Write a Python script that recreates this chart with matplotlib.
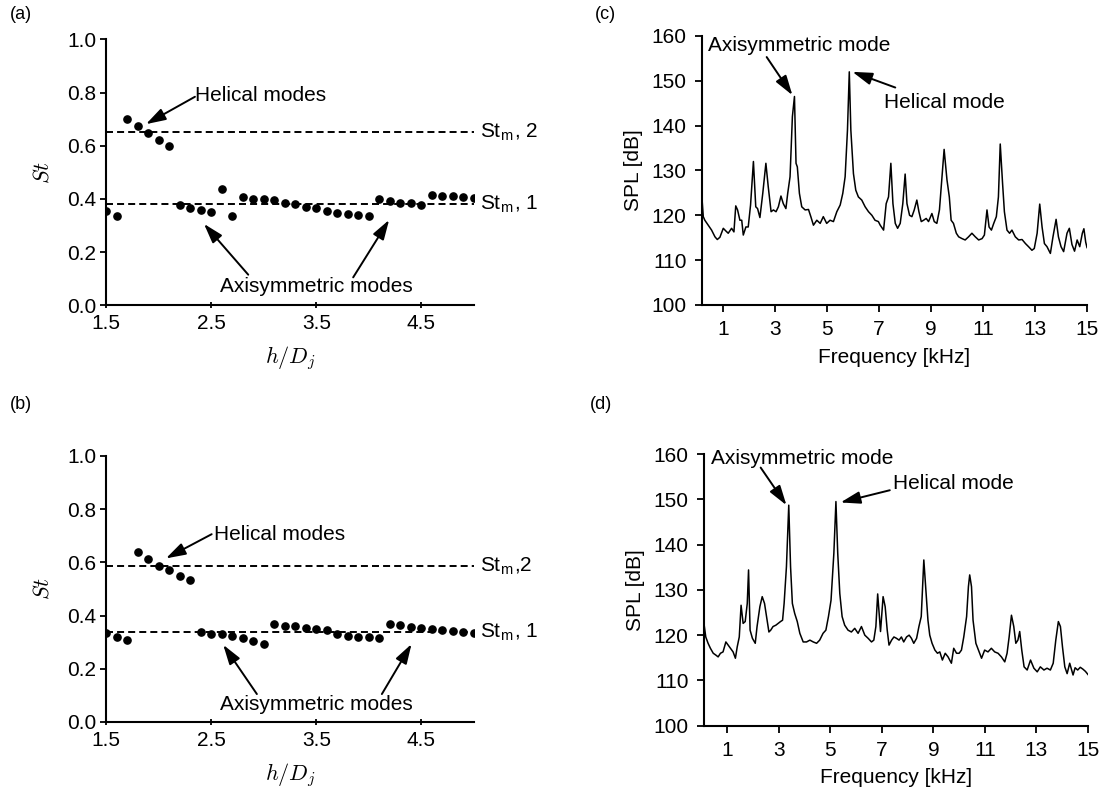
import matplotlib
matplotlib.use('Agg')
import matplotlib.pyplot as plt
import numpy as np

plt.rcParams['font.family'] = ['Liberation Sans', 'DejaVu Sans']
plt.rcParams['mathtext.fontset'] = 'cm'
plt.rcParams['font.size'] = 15

# ---- Strouhal number vs. impingement distance, panels (a) and (b) ----
# panel (a)
a_hel_h = [1.7, 1.8, 1.9, 2.0, 2.1]
a_hel_st = [0.700, 0.673, 0.648, 0.622, 0.599]
a_axi_h = [1.5, 1.6, 2.2, 2.3, 2.4, 2.5, 2.6, 2.7, 2.8, 2.9, 3.0, 3.1, 3.2, 3.3,
           3.4, 3.5, 3.6, 3.7, 3.8, 3.9, 4.0, 4.1, 4.2, 4.3, 4.4, 4.5, 4.6,
           4.7, 4.8, 4.9, 5.0]
a_axi_st = [0.353, 0.337, 0.378, 0.366, 0.358, 0.352, 0.436, 0.335, 0.407,
            0.401, 0.400, 0.397, 0.386, 0.381, 0.371, 0.367, 0.354, 0.347,
            0.342, 0.340, 0.335, 0.400, 0.393, 0.386, 0.386, 0.377, 0.416,
            0.412, 0.410, 0.407, 0.403]
a_stm = [0.38, 0.65]

# panel (b)
b_hel_h = [1.8, 1.9, 2.0, 2.1, 2.2, 2.3]
b_hel_st = [0.639, 0.614, 0.587, 0.571, 0.550, 0.532]
b_axi_h = [1.5, 1.6, 1.7, 2.4, 2.5, 2.6, 2.7, 2.8, 2.9, 3.0, 3.1, 3.2, 3.3, 3.4,
           3.5, 3.6, 3.7, 3.8, 3.9, 4.0, 4.1, 4.2, 4.3, 4.4, 4.5, 4.6, 4.7,
           4.8, 4.9, 5.0]
b_axi_st = [0.335, 0.319, 0.310, 0.339, 0.332, 0.329, 0.323, 0.314, 0.304,
            0.295, 0.368, 0.362, 0.359, 0.353, 0.349, 0.344, 0.330, 0.325,
            0.320, 0.319, 0.314, 0.367, 0.363, 0.358, 0.354, 0.349, 0.345,
            0.343, 0.337, 0.334]
b_stm = [0.337, 0.585]

# ---- SPL spectra, panels (c) and (d) ----
c_f = [0.19, 0.23, 0.29, 0.42, 0.55, 0.68, 0.77, 0.87, 1.00, 1.10, 1.19, 1.32,
       1.41, 1.48, 1.55, 1.64, 1.71, 1.77, 1.87, 1.96, 2.05, 2.16, 2.25, 2.32,
       2.41, 2.52, 2.64, 2.73, 2.84, 2.93, 3.03, 3.12, 3.22, 3.31, 3.41, 3.48,
       3.57, 3.66, 3.74, 3.80, 3.85, 3.93, 4.02, 4.15, 4.28, 4.37, 4.47, 4.60,
       4.73, 4.85, 4.98, 5.11, 5.24, 5.37, 5.50, 5.60, 5.69, 5.78, 5.85, 5.91,
       6.01, 6.10, 6.20, 6.33, 6.46, 6.59, 6.72, 6.84, 6.97, 7.04, 7.17, 7.27,
       7.36, 7.45, 7.53, 7.62, 7.71, 7.81, 7.91, 8.00, 8.07, 8.17, 8.26, 8.35,
       8.45, 8.53, 8.62, 8.71, 8.81, 8.90, 9.03, 9.12, 9.22, 9.32, 9.41, 9.50,
       9.61, 9.70, 9.77, 9.86, 9.97, 10.06, 10.19, 10.31, 10.44, 10.57, 10.70,
       10.83, 10.96, 11.05, 11.15, 11.23, 11.32, 11.41, 11.51, 11.59, 11.66,
       11.75, 11.82, 11.92, 12.02, 12.11, 12.24, 12.37, 12.50, 12.63, 12.75,
       12.88, 12.97, 13.08, 13.18, 13.27, 13.36, 13.46, 13.59, 13.69, 13.81,
       13.90, 14.00, 14.10, 14.23, 14.32, 14.42, 14.52, 14.62, 14.72, 14.82,
       14.88, 14.95, 15.00]
c_spl = [123.0, 119.7, 118.9, 117.8, 116.7, 115.2, 114.6, 115.1, 117.1, 116.5,
         116.0, 117.1, 116.3, 122.1, 121.2, 118.9, 118.9, 115.6, 117.4, 117.4,
         122.3, 132.0, 121.9, 121.5, 119.5, 124.9, 131.6, 126.4, 120.8, 121.2,
         120.8, 121.9, 124.3, 122.6, 121.5, 124.9, 128.6, 142.0, 146.5, 131.6,
         130.8, 124.9, 121.9, 121.2, 121.3, 119.7, 117.8, 118.9, 118.2, 119.7,
         118.2, 118.9, 118.6, 120.8, 122.3, 124.9, 128.6, 139.0, 152.0, 139.0,
         129.3, 125.6, 124.1, 123.4, 121.9, 120.8, 120.0, 118.9, 118.6, 117.8,
         116.7, 122.6, 124.1, 131.6, 122.6, 118.2, 117.1, 118.2, 122.6, 129.2,
         122.6, 120.0, 119.7, 121.2, 123.4, 120.8, 118.6, 118.9, 119.3, 118.6,
         120.4, 118.6, 118.2, 121.2, 127.9, 134.7, 127.9, 124.1, 118.9, 118.2,
         116.0, 115.2, 114.8, 114.5, 115.2, 116.0, 115.2, 114.5, 114.8, 115.6,
         121.2, 117.4, 116.7, 118.2, 119.7, 124.1, 135.9, 127.1, 120.8, 116.7,
         116.0, 116.7, 115.2, 114.5, 114.6, 113.7, 113.0, 112.2, 112.6, 116.0,
         122.5, 117.4, 113.7, 113.0, 111.5, 115.2, 119.1, 115.2, 113.0, 111.9,
         116.0, 117.1, 113.5, 112.0, 114.5, 113.0, 116.0, 117.0, 114.0, 112.8]

d_f = [0.09, 0.17, 0.26, 0.35, 0.46, 0.56, 0.65, 0.74, 0.84, 0.95, 1.04, 1.13,
       1.23, 1.32, 1.39, 1.47, 1.54, 1.62, 1.70, 1.78, 1.83, 1.89, 1.98, 2.09,
       2.16, 2.27, 2.36, 2.45, 2.53, 2.62, 2.69, 2.78, 2.89, 2.98, 3.07, 3.15,
       3.21, 3.30, 3.39, 3.46, 3.53, 3.62, 3.72, 3.82, 3.95, 4.08, 4.21, 4.34,
       4.47, 4.59, 4.72, 4.83, 4.93, 5.03, 5.14, 5.22, 5.29, 5.37, 5.46, 5.56,
       5.69, 5.82, 5.95, 6.08, 6.21, 6.34, 6.47, 6.60, 6.69, 6.77, 6.84, 6.95,
       7.05, 7.13, 7.21, 7.28, 7.38, 7.47, 7.57, 7.67, 7.76, 7.85, 7.96, 8.06,
       8.15, 8.24, 8.35, 8.44, 8.53, 8.63, 8.71, 8.79, 8.86, 8.95, 9.06, 9.16,
       9.25, 9.35, 9.46, 9.57, 9.70, 9.79, 9.90, 10.00, 10.09, 10.18, 10.29,
       10.36, 10.41, 10.48, 10.54, 10.65, 10.75, 10.87, 10.99, 11.12, 11.25,
       11.38, 11.51, 11.64, 11.77, 11.86, 11.94, 12.03, 12.12, 12.20, 12.28,
       12.35, 12.43, 12.52, 12.64, 12.77, 12.90, 13.03, 13.15, 13.29, 13.41,
       13.54, 13.65, 13.75, 13.85, 13.93, 14.01, 14.10, 14.19, 14.29, 14.42,
       14.50, 14.60, 14.70, 14.80, 14.90, 15.00]
d_spl = [123.0, 119.6, 118.2, 117.1, 116.0, 115.6, 115.2, 116.0, 116.3, 118.5,
         117.8, 117.1, 116.3, 114.9, 117.4, 119.6, 126.6, 122.6, 123.0, 127.0,
         134.4, 121.1, 119.3, 118.2, 121.9, 126.3, 128.5, 127.0, 124.1, 120.7,
         121.1, 121.9, 122.2, 122.6, 123.0, 123.3, 127.0, 135.1, 148.7, 135.1,
         127.0, 124.8, 123.0, 120.4, 118.5, 118.5, 118.9, 118.5, 118.2, 118.9,
         120.4, 121.1, 124.1, 127.7, 138.1, 149.5, 138.1, 129.2, 124.1, 122.2,
         121.1, 120.7, 121.5, 120.4, 121.9, 120.0, 119.3, 118.5, 118.9, 121.9,
         129.1, 120.8, 128.5, 126.3, 121.1, 117.8, 118.9, 119.6, 119.3, 118.9,
         119.6, 118.5, 119.6, 120.0, 119.3, 118.2, 119.3, 121.9, 124.1, 136.6,
         130.0, 123.3, 120.0, 118.2, 116.7, 116.0, 116.3, 114.5, 116.0, 115.2,
         113.8, 117.1, 116.0, 116.0, 116.7, 119.6, 124.1, 130.7, 133.3, 130.7,
         123.3, 118.2, 116.7, 114.9, 116.7, 116.3, 117.1, 116.3, 116.0, 115.2,
         114.1, 116.0, 119.6, 124.4, 121.9, 118.2, 118.9, 120.8, 116.7, 113.0,
         112.3, 114.5, 112.7, 111.9, 113.0, 112.3, 112.7, 112.3, 113.8, 118.9,
         123.0, 121.9, 117.4, 113.0, 111.5, 113.8, 111.2, 112.8, 112.3, 112.9,
         112.5, 112.0, 111.3]

fig = plt.figure(figsize=(11.02, 7.94), dpi=100)

ax_a = fig.add_axes([0.0962, 0.6155, 0.3339, 0.3350])
ax_b = fig.add_axes([0.0962, 0.0907, 0.3339, 0.3350])
ax_c = fig.add_axes([0.6370, 0.6159, 0.3494, 0.3388])
ax_d = fig.add_axes([0.6388, 0.0860, 0.3485, 0.3422])

arrow = dict(arrowstyle='-|>,head_length=0.8,head_width=0.25', color='k',
             lw=1.4, shrinkA=0, shrinkB=0)


def style_axes(ax):
    for s in ['top', 'right']:
        ax.spines[s].set_visible(False)
    for s in ['left', 'bottom']:
        ax.spines[s].set_linewidth(1.5)
    ax.tick_params(width=1.3, labelsize=15)


def st_panel(ax, hel_h, hel_st, axi_h, axi_st, stm, stm_text):
    ax.plot(hel_h, hel_st, 'o', color='k', ms=5.2)
    ax.plot(axi_h, axi_st, 'o', color='k', ms=5.2)
    for v, t in zip(stm, stm_text):
        ax.axhline(v, color='k', lw=1.4, ls=(0, (3.6, 2.1)))
        ax.text(5.06, v, t, ha='left', va='center', fontsize=15, clip_on=False)
    ax.set_xlim(1.5, 5.0)
    ax.set_ylim(0, 1.0)
    ax.set_xticks([1.5, 2.5, 3.5, 4.5])
    ax.set_yticks([0.0, 0.2, 0.4, 0.6, 0.8, 1.0])
    ax.set_yticklabels(['%.1f' % v for v in ax.get_yticks()])
    style_axes(ax)
    ax.tick_params(axis='x', direction='inout', length=5, pad=4)
    ax.tick_params(axis='y', direction='out', length=4, pad=3)
    ax.set_xlabel(r'$h/D_j$', fontsize=16, labelpad=8)
    ax.set_ylabel(r'$St$', fontsize=16, labelpad=10)


def spl_panel(ax, f, spl, x0):
    ax.plot(f, spl, color='k', lw=1.1)
    ax.set_xlim(x0, 15)
    ax.set_ylim(100, 160)
    ax.set_xticks(range(1, 16, 2))
    ax.set_yticks(range(100, 161, 10))
    style_axes(ax)
    ax.tick_params(direction='out', length=5, pad=6)
    ax.set_xlabel('Frequency [kHz]', fontsize=15, labelpad=6)
    ax.set_ylabel('SPL [dB]', fontsize=15, labelpad=6)


# (a)
st_panel(ax_a, a_hel_h, a_hel_st, a_axi_h, a_axi_st, a_stm,
         [r'St$_\mathregular{m}$, 1', r'St$_\mathregular{m}$, 2'])
ax_a.text(2.35, 0.79, 'Helical modes', ha='left', va='center', fontsize=15)
ax_a.annotate('', xy=(1.88, 0.681), xytext=(2.346, 0.784), arrowprops=arrow)
ax_a.text(3.5, 0.07, 'Axisymmetric modes', ha='center', va='center', fontsize=15)
ax_a.annotate('', xy=(2.432, 0.306), xytext=(2.853, 0.115), arrowprops=arrow)
ax_a.annotate('', xy=(4.193, 0.321), xytext=(3.851, 0.105), arrowprops=arrow)

# (b)
st_panel(ax_b, b_hel_h, b_hel_st, b_axi_h, b_axi_st, b_stm,
         [r'St$_\mathregular{m}$, 1', r'St$_\mathregular{m}$,2'])
ax_b.text(2.53, 0.706, 'Helical modes', ha='left', va='center', fontsize=15)
ax_b.annotate('', xy=(2.07, 0.615), xytext=(2.505, 0.706), arrowprops=arrow)
ax_b.text(3.5, 0.064, 'Axisymmetric modes', ha='center', va='center', fontsize=15)
ax_b.annotate('', xy=(2.615, 0.290), xytext=(2.935, 0.105), arrowprops=arrow)
ax_b.annotate('', xy=(4.406, 0.293), xytext=(4.124, 0.105), arrowprops=arrow)

# (c)
spl_panel(ax_c, c_f, c_spl, 0.18)
ax_c.text(0.4, 157.8, 'Axisymmetric mode', ha='left', va='center', fontsize=15)
ax_c.annotate('', xy=(3.66, 146.8), xytext=(2.67, 155.3), arrowprops=arrow)
ax_c.text(7.2, 145.1, 'Helical mode', ha='left', va='center', fontsize=15)
ax_c.annotate('', xy=(5.97, 152.0), xytext=(7.62, 148.5), arrowprops=arrow)

# (d)
spl_panel(ax_d, d_f, d_spl, 0.1)
ax_d.text(0.38, 158.9, 'Axisymmetric mode', ha='left', va='center', fontsize=15)
ax_d.annotate('', xy=(3.30, 148.7), xytext=(2.30, 157.0), arrowprops=arrow)
ax_d.text(7.45, 153.5, 'Helical mode', ha='left', va='center', fontsize=15)
ax_d.annotate('', xy=(5.40, 149.3), xytext=(7.31, 152.0), arrowprops=arrow)

# panel letters
fig.text(0.009, 0.982, '(a)', fontsize=13, va='center')
fig.text(0.009, 0.490, '(b)', fontsize=13, va='center')
fig.text(0.540, 0.982, '(c)', fontsize=13, va='center')
fig.text(0.535, 0.490, '(d)', fontsize=13, va='center')

fig.savefig('out.png', dpi=100)
